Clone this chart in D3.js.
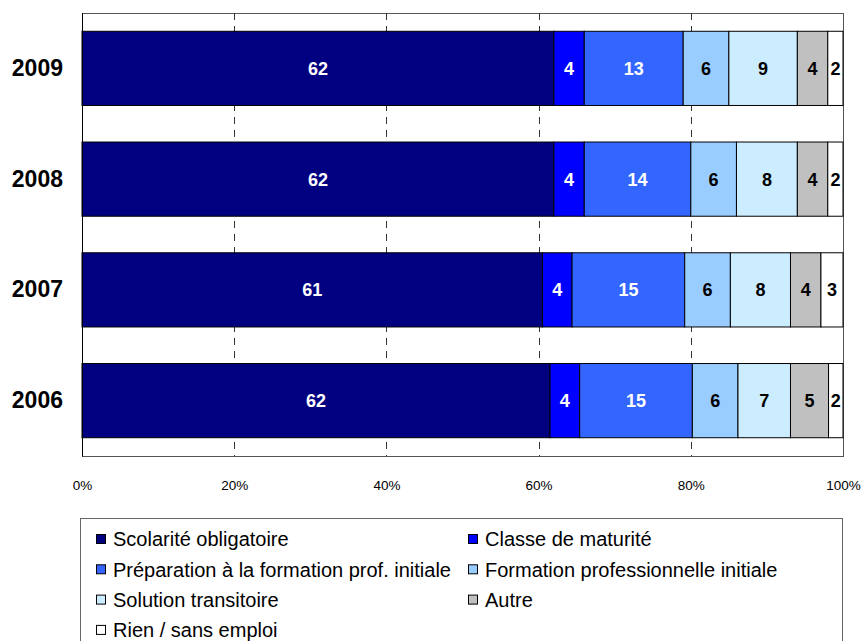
<!DOCTYPE html>
<html>
<head>
<meta charset="utf-8">
<script src="https://cdn.jsdelivr.net/npm/d3@7"></script>
<style>
  html, body { margin: 0; padding: 0; background: #fff; }
  svg { display: block; font-family: "Liberation Sans", Arial, sans-serif; }
</style>
</head>
<body>
<svg id="chart" width="863" height="641"></svg>
<script>
// ---- data ----
const years = ["2009", "2008", "2007", "2006"];
const categories = [
  "Scolarité obligatoire",
  "Classe de maturité",
  "Préparation à la formation prof. initiale",
  "Formation professionnelle initiale",
  "Solution transitoire",
  "Autre",
  "Rien / sans emploi"
];
const scolarite   = [62, 62, 60.5, 61.5];
const maturite    = [4, 4, 3.9, 3.9];
const preparation = [13, 14, 14.8, 14.8];
const formation   = [6, 6, 6.0, 6.0];
const transitoire = [9, 8, 7.9, 6.9];
const autre       = [4, 4, 4.0, 5.0];
const rien        = [2, 2, 2.9, 1.9];
const tickValues  = [0, 20, 40, 60, 80, 100];

const seriesValues = [scolarite, maturite, preparation, formation, transitoire, autre, rien];
const colors = ["#000080", "#0000FF", "#3366FF", "#99CCFF", "#CCECFF", "#C0C0C0", "#FFFFFF"];
const textColors = ["#fff", "#fff", "#fff", "#000", "#000", "#000", "#000"];

// table for d3.stack
const table = years.map((y, i) => {
  const row = { year: y };
  categories.forEach((c, k) => row[c] = seriesValues[k][i]);
  return row;
});

const svg = d3.select("#chart");
const L = 82, R = 843, T = 13, B = 456;

const x = d3.scaleLinear().domain([0, 100]).range([L, R]);
const y = d3.scaleBand().domain(years).range([T, B]).paddingInner(0.33).paddingOuter(0.165);

// plot frame
svg.append("rect").attr("x", L).attr("y", T).attr("width", R - L).attr("height", B - T)
  .attr("fill", "#fff").attr("stroke", "#555").attr("stroke-width", 1)
  .attr("shape-rendering", "crispEdges");

// gridlines
svg.append("g").selectAll("line").data(tickValues.filter(d => d > 0 && d < 100)).join("line")
  .attr("x1", d => Math.round(x(d)) + 0.5).attr("x2", d => Math.round(x(d)) + 0.5)
  .attr("y1", T).attr("y2", B)
  .attr("stroke", "#333").attr("stroke-width", 1).attr("stroke-dasharray", "7,6");

const stack = d3.stack().keys(categories);
const stacked = stack(table);

const gBars = svg.append("g");
stacked.forEach((layer, k) => {
  gBars.append("g").selectAll("rect").data(layer).join("rect")
    .attr("x", d => x(d[0]))
    .attr("y", d => y(d.data.year))
    .attr("width", d => x(d[1]) - x(d[0]))
    .attr("height", y.bandwidth())
    .attr("fill", colors[k])
    .attr("stroke", "#000").attr("stroke-width", 1);
});
stacked.forEach((layer, k) => {
  gBars.append("g").selectAll("text").data(layer).join("text")
    .attr("x", d => (x(d[0]) + x(d[1])) / 2)
    .attr("y", d => y(d.data.year) + y.bandwidth() / 2)
    .attr("dy", "0.36em")
    .attr("text-anchor", "middle")
    .attr("font-size", 18).attr("font-weight", "bold")
    .attr("fill", textColors[k])
    .text(d => d3.format(".0f")(d[1] - d[0]));
});

// left axis line
svg.append("line").attr("x1", L + 0.5).attr("x2", L + 0.5).attr("y1", T).attr("y2", B + 0.5)
  .attr("stroke", "#000").attr("stroke-width", 1);

// x axis
const xAxis = svg.append("g").attr("transform", `translate(0,${B})`)
  .call(d3.axisBottom(x).tickValues(tickValues).tickFormat(d => d + "%").tickSize(0).tickPadding(24));
xAxis.select(".domain").remove();
xAxis.selectAll("text").attr("font-size", 13.5).attr("font-family", "Liberation Sans, Arial, sans-serif").attr("fill", "#000");

// y axis
const yAxis = svg.append("g").attr("transform", `translate(${L},0)`)
  .call(d3.axisLeft(y).tickSize(0).tickPadding(19));
yAxis.select(".domain").remove();
yAxis.selectAll("text").attr("font-size", 23).attr("font-weight", "bold")
  .attr("font-family", "Liberation Sans, Arial, sans-serif").attr("fill", "#000");

// legend
const lg = svg.append("g");
lg.append("rect").attr("x", 80.5).attr("y", 518.5).attr("width", 762).attr("height", 200)
  .attr("fill", "#fff").attr("stroke", "#666").attr("stroke-width", 1);
const colX = [96, 468];
const items = lg.selectAll("g.item").data(categories).join("g").attr("class", "item")
  .attr("transform", (d, i) => `translate(${colX[i % 2]},${539 + Math.floor(i / 2) * 30.3})`);
items.append("rect").attr("x", 0.5).attr("y", -4.5).attr("width", 9).attr("height", 9)
  .attr("fill", (d, i) => colors[i]).attr("stroke", "#000").attr("stroke-width", 1);
items.append("text").attr("x", 17).attr("y", 0).attr("dy", "0.36em")
  .attr("font-size", 20).attr("fill", "#000").text(d => d);
</script>
</body>
</html>
